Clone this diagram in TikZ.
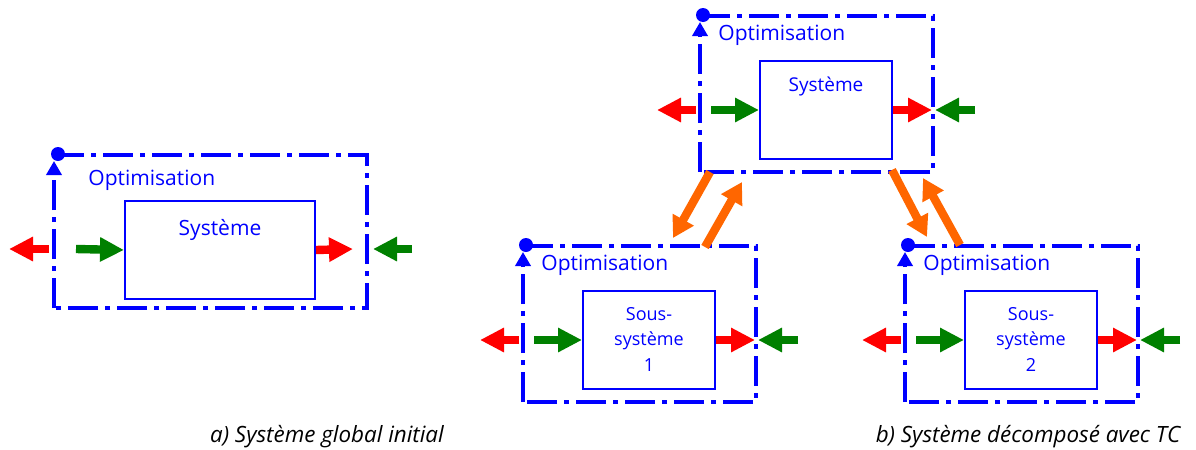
\documentclass[tikz,border=0pt]{standalone}
\usepackage{fontspec}
\setmainfont{Open Sans}
\usetikzlibrary{arrows.meta,positioning}
\definecolor{optblue}{RGB}{0,0,255}
\definecolor{outred}{RGB}{255,0,0}
\definecolor{ingreen}{RGB}{0,128,0}
\definecolor{tcorange}{RGB}{255,102,0}
\tikzset{
  optframe/.style={draw=optblue, line width=2pt, dash pattern=on 15pt off 3.5pt on 2.5pt off 3.5pt},
  optup/.style={optframe, -{Triangle[length=7pt,width=7.5pt]}},
  sysbox/.style={draw=optblue, line width=1pt, minimum width=66pt, minimum height=49pt, inner sep=0pt, anchor=north west},
  optlbl/.style={text=optblue, font=\fontsize{10.5}{12}\selectfont, anchor=west, inner sep=0pt},
  syslbl/.style={text=optblue, align=center, inner sep=0pt, anchor=north},
  fat/.style={line width=4.2pt, -{Triangle[length=12pt,width=11.5pt]}},
  fatred/.style={fat, draw=outred, color=outred},
  fatgreen/.style={fat, draw=ingreen, color=ingreen},
  fatorange/.style={line width=4.2pt, draw=tcorange, color=tcorange, -{Triangle[length=10.5pt,width=11.5pt]}},
  caption/.style={font=\fontsize{11.2}{13}\itshape, inner sep=0pt}
}
\begin{document}
\begin{tikzpicture}[x=0.5pt, y=-0.5pt]
  \useasboundingbox (0,0) rectangle (1196,450);
  % a) initial system, one optimisation round the whole system
  \draw[optup] (54,308) -- (54,161);
  \draw[optframe] (54,155) -- (367,155) -- (367,308) -- (54,308);
  \fill[optblue] (58,154) circle (3.5pt);
  \node[optlbl] (optA) at (88,180) {Optimisation};
  \node[sysbox, minimum width=95pt] (sysA) at (124,200) {};
  \node[syslbl, font=\fontsize{10.5}{12}\selectfont, below=9.5pt of sysA.north] (txtA) {Système};
  \coordinate (edgeLA) at (49,249); \coordinate (outLA) at (9,249);
  \coordinate (inLA) at (76,249); \coordinate (outRA) at (353,249);
  \coordinate (inRA) at (412,249); \coordinate (edgeRA) at (373,249);
  \draw[fatred] (edgeLA) -- (outLA);
  \draw[fatgreen] (inLA) -- (sysA.west);
  \draw[fatred] (sysA.east) -- (outRA);
  \draw[fatgreen] (inRA) -- (edgeRA);
  % b) top level system and the two subsystems, same frame each time
  \foreach \n/\x/\y/\sz/\txt in {T/700/16/9.5/Système, 1/523/246/9/{Sous-\\système\\1}, 2/905/246/9/{Sous-\\système\\2}} {
    \draw[optup] (\x,\y+156) -- (\x,\y+6);
    \draw[optframe] (\x,\y) -- (\x+233,\y) -- (\x+233,\y+156) -- (\x,\y+156);
    \fill[optblue] (\x+3,\y-1) circle (3.5pt);
    \node[optlbl] (opt\n) at (\x+18,\y+19) {Optimisation};
    \node[sysbox] (sys\n) at (\x+59,\y+44) {};
    \node[syslbl, font=\fontsize{\sz}{12.75}\selectfont, below=8.5pt of sys\n.north] (txt\n) {\txt};
    \coordinate (edgeL\n) at (\x-4,\y+94); \coordinate (outL\n) at (\x-43,\y+94);
    \coordinate (inL\n) at (\x+11,\y+94); \coordinate (outR\n) at (\x+232,\y+94);
    \coordinate (inR\n) at (\x+275,\y+94); \coordinate (edgeR\n) at (\x+235,\y+94);
    \draw[fatred] (edgeL\n) -- (outL\n);
    \draw[fatgreen] (inL\n) -- (sys\n.west);
    \draw[fatred] (sys\n.east) -- (outR\n);
    \draw[fatgreen] (inR\n) -- (edgeR\n);
  }
  % coordination between the levels
  \coordinate (tc1s) at (710,172); \coordinate (tc1e) at (673,238);
  \coordinate (tc2s) at (705,247); \coordinate (tc2e) at (742,182);
  \coordinate (tc3s) at (892,170); \coordinate (tc3e) at (927,237);
  \coordinate (tc4s) at (960,245); \coordinate (tc4e) at (923,178);
  \foreach \k in {1,2,3,4} \draw[fatorange] (tc\k s) -- (tc\k e);
  \node[caption] (capA) at (327,437) {a) Système global initial};
  \node[caption] (capB) at (1028,437) {b) Système décomposé avec TC};
\end{tikzpicture}
\end{document}
